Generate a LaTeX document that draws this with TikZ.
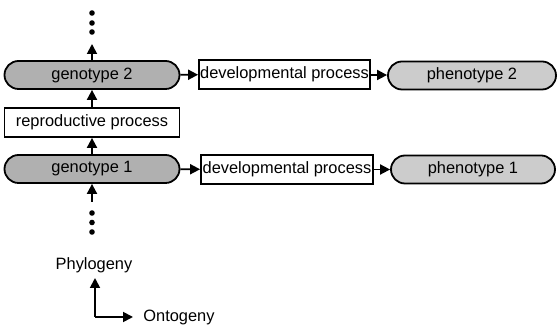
\documentclass[tikz,border=0pt]{standalone}
\usepackage{fontspec}
\setmainfont{Liberation Sans}
\usetikzlibrary{arrows.meta}
\tikzset{
  pill/.style={draw, line width=0.9pt, rounded corners=7pt, minimum height=14pt, inner sep=0pt},
  geno/.style={pill, fill=gray!62},
  pheno/.style={pill, fill=gray!40},
  procbox/.style={draw, line width=0.9pt, fill=white, minimum height=14.5pt, inner sep=0pt},
  flow/.style={line width=0.9pt, -{Triangle[length=5pt,width=5pt]}},
  dot/.style={circle, fill, inner sep=0pt, minimum size=2.8pt}
}
\begin{document}
\begin{tikzpicture}[x=0.5pt,y=-0.5pt,font=\fontsize{8.2}{9.8}\selectfont]
\useasboundingbox (0,0) rectangle (558,325);
% phylogeny column
\node[geno, minimum width=87.5pt] (geno2) at (92,75) {genotype 2};
\node[procbox, minimum width=87.5pt] (repro) at (92,122.5) {reproductive process};
\node[geno, minimum width=87.5pt] (geno1) at (92,169) {genotype 1};
% ontogeny rows
\node[procbox, minimum width=85.5pt] (dev2) at (284.5,74.5) {developmental process};
\node[pheno, minimum width=84pt] (pheno2) at (472,75.5) {phenotype 2};
\node[procbox, minimum width=86pt] (dev1) at (287,169.5) {developmental process};
\node[pheno, minimum width=82pt] (pheno1) at (473,169.5) {phenotype 1};
% dots
\node[dot] (d1) at (92,13) {};
\node[dot] (d2) at (92,23) {};
\node[dot] (d3) at (92,32) {};
\node[dot] (d4) at (92,213) {};
\node[dot] (d5) at (92,222.5) {};
\node[dot] (d6) at (92,232) {};
\coordinate (top) at (92,44);
\coordinate (bottom) at (92,202);
\draw[flow] (geno2) -- (top);
\draw[flow] (repro) -- (geno2);
\draw[flow] (geno1) -- (repro);
\draw[flow] (bottom) -- (geno1);
\draw[flow] (geno2) -- (dev2);
\draw[flow] (dev2) -- (pheno2);
\draw[flow] (geno1) -- (dev1);
\draw[flow] (dev1) -- (pheno1);
% axes
\coordinate (origin) at (95,317);
\coordinate (up) at (95,278);
\coordinate (right) at (133,317);
\node (phylo) at (94,265) {Phylogeny};
\node[anchor=west, inner sep=0pt] (onto) at (143,317) {Ontogeny};
\draw[flow] (origin) -- (up);
\draw[flow] (origin) -- (right);
\end{tikzpicture}
\end{document}
